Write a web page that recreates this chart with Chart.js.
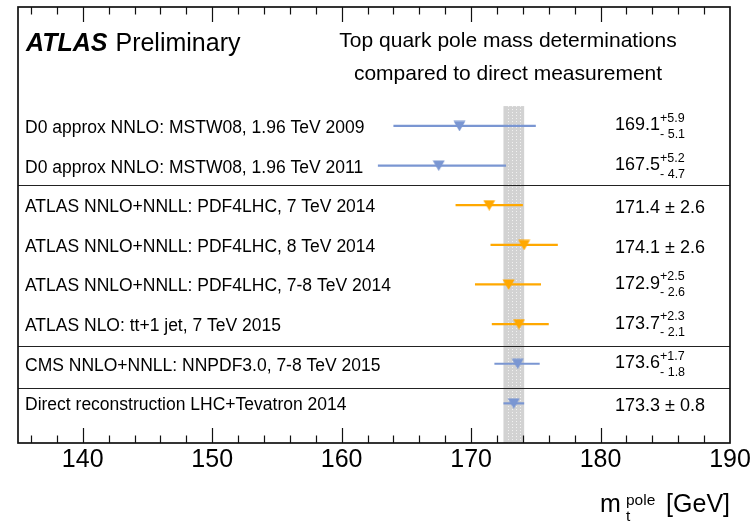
<!DOCTYPE html>
<html><head><meta charset="utf-8">
<script src="https://cdn.jsdelivr.net/npm/chart.js@4.4.1/dist/chart.umd.min.js"></script>
<style>html,body{margin:0;padding:0;background:#fff;}canvas{display:block;}</style>
</head><body>
<canvas id="c" width="756" height="524"></canvas>
<script>
// ---- data ----
const measurementLabels = [
  'D0 approx NNLO: MSTW08, 1.96 TeV 2009',
  'D0 approx NNLO: MSTW08, 1.96 TeV 2011',
  'ATLAS NNLO+NNLL: PDF4LHC, 7 TeV 2014',
  'ATLAS NNLO+NNLL: PDF4LHC, 8 TeV 2014',
  'ATLAS NNLO+NNLL: PDF4LHC, 7-8 TeV 2014',
  'ATLAS NLO: tt+1 jet, 7 TeV 2015',
  'CMS NNLO+NNLL: NNPDF3.0, 7-8 TeV 2015',
  'Direct reconstruction LHC+Tevatron 2014'
];
const centralValues = [169.1, 167.5, 171.4, 174.1, 172.9, 173.7, 173.6, 173.3];
const errorsUp      = [5.9, 5.2, 2.6, 2.6, 2.5, 2.3, 1.7, 0.8];
const errorsDown    = [5.1, 4.7, 2.6, 2.6, 2.6, 2.1, 1.8, 0.8];
const seriesGroups  = ['blue', 'blue', 'orange', 'orange', 'orange', 'orange', 'blue', 'blue'];
const xTickValues   = [140, 150, 160, 170, 180, 190];
const referenceIndex = 7;            // direct measurement -> grey band
const separatorRows = [1.5, 5.55, 6.6];

// ---- styles ----
const COLORS = { blue: 'rgb(122,150,210)', orange: 'rgb(255,168,0)' };
const SANS = '"Liberation Sans", Arial, Helvetica, sans-serif';

function triangleImage(color) {
  const c = document.createElement('canvas');
  c.width = 13; c.height = 11;
  const g = c.getContext('2d');
  g.fillStyle = color;
  g.beginPath(); g.moveTo(0.5, 0.5); g.lineTo(12.5, 0.5); g.lineTo(6.5, 11); g.closePath(); g.fill();
  return c;
}
const markerImages = { blue: triangleImage(COLORS.blue), orange: triangleImage(COLORS.orange) };

const markerDataset = {
  label: 'markers',
  data: centralValues.map((v, i) => ({ x: v, y: i })),
  pointStyle: seriesGroups.map(g => markerImages[g]),
  pointRadius: 6,
  order: 0
};
const errorDatasets = centralValues.map((v, i) => ({
  label: 'err' + i,
  data: [{ x: v - errorsDown[i], y: i }, { x: v + errorsUp[i], y: i }],
  showLine: true,
  borderColor: COLORS[seriesGroups[i]],
  borderWidth: 2.2,
  pointRadius: 0,
  order: 1
}));

function fmt(v) { return v.toFixed(1); }

const decor = {
  id: 'decor',
  beforeDatasetsDraw(chart) {
    const { ctx, chartArea: a, scales: { x, y } } = chart;
    const c = centralValues[referenceIndex];
    const x0 = x.getPixelForValue(c - errorsDown[referenceIndex]);
    const x1 = x.getPixelForValue(c + errorsUp[referenceIndex]);
    const yTop = y.getPixelForValue(-0.5);
    ctx.save();
    ctx.fillStyle = '#d2d2d2';
    ctx.fillRect(x0, yTop, x1 - x0, a.bottom - yTop);
    ctx.strokeStyle = 'rgba(255,255,255,0.75)';
    ctx.lineWidth = 1;
    ctx.setLineDash([1, 2]);
    for (let k = 1; k <= 4; k++) {
      const xx = Math.round(x0 + (x1 - x0) * k / 5) + 0.5;
      ctx.beginPath(); ctx.moveTo(xx, yTop); ctx.lineTo(xx, a.bottom); ctx.stroke();
    }
    ctx.setLineDash([]);
    ctx.strokeStyle = '#222';
    ctx.lineWidth = 1;
    separatorRows.forEach(r => {
      const yy = Math.round(y.getPixelForValue(r)) + 0.5;
      ctx.beginPath(); ctx.moveTo(a.left, yy); ctx.lineTo(a.right, yy); ctx.stroke();
    });
    ctx.restore();
  },
  afterDraw(chart) {
    const { ctx, chartArea: a, scales: { x, y } } = chart;
    ctx.save();
    // ticks
    ctx.strokeStyle = '#111';
    ctx.lineWidth = 1.2;
    for (let v = 136; v <= 188; v += 2) {
      const xx = Math.round(x.getPixelForValue(v)) + 0.5;
      const len = v % 10 === 0 ? 15 : 7.5;
      ctx.beginPath();
      ctx.moveTo(xx, a.bottom); ctx.lineTo(xx, a.bottom - len);
      ctx.moveTo(xx, a.top); ctx.lineTo(xx, a.top + len);
      ctx.stroke();
    }
    // frame
    ctx.lineWidth = 1.7;
    ctx.strokeRect(a.left, a.top, a.right - a.left, a.bottom - a.top);

    ctx.fillStyle = '#000';
    ctx.textBaseline = 'alphabetic';
    // ATLAS Preliminary
    ctx.font = 'italic bold 25px ' + SANS;
    ctx.textAlign = 'left';
    ctx.fillText('ATLAS', 26, 51);
    const w = ctx.measureText('ATLAS').width;
    ctx.font = '25px ' + SANS;
    ctx.fillText('Preliminary', 26 + w + 8, 51);
    // title
    ctx.font = '21px ' + SANS;
    ctx.textAlign = 'center';
    ctx.fillText('Top quark pole mass determinations', 508, 47);
    ctx.fillText('compared to direct measurement', 508, 80);

    // row labels and values
    measurementLabels.forEach((lab, i) => {
      const yy = y.getPixelForValue(i);
      ctx.textAlign = 'left';
      ctx.font = '17.5px ' + SANS;
      ctx.fillText(lab, 25, yy + 7);
      ctx.font = '18px ' + SANS;
      const main = fmt(centralValues[i]);
      const xv = 615;
      if (errorsUp[i] === errorsDown[i]) {
        ctx.fillText(main + ' \u00b1 ' + fmt(errorsUp[i]), xv, yy + 8);
      } else {
        ctx.fillText(main, xv, yy + 4.5);
        const mw = ctx.measureText(main).width;
        ctx.font = '12.5px ' + SANS;
        ctx.fillText('+' + fmt(errorsUp[i]), xv + mw, yy - 4);
        ctx.fillText('- ' + fmt(errorsDown[i]), xv + mw, yy + 12);
      }
    });

    // axis title
    ctx.textAlign = 'left';
    ctx.font = '25px ' + SANS;
    ctx.fillText('m', 600, 512);
    ctx.font = '15.5px ' + SANS;
    ctx.fillText('pole', 626, 505);
    ctx.fillText('t', 626, 521);
    ctx.font = '25px ' + SANS;
    ctx.textAlign = 'right';
    ctx.fillText('[GeV]', 730, 512);
    ctx.restore();
  }
};

new Chart(document.getElementById('c'), {
  type: 'scatter',
  data: { datasets: [markerDataset, ...errorDatasets] },
  options: {
    responsive: false,
    animation: false,
    devicePixelRatio: 1,
    layout: { padding: { left: 18, right: 26, top: 7, bottom: 0 } },
    plugins: { legend: { display: false }, tooltip: { enabled: false } },
    scales: {
      x: {
        type: 'linear', min: 135, max: 190,
        grid: { display: false, drawTicks: false },
        border: { display: false },
        afterBuildTicks(scale) { scale.ticks = xTickValues.map(v => ({ value: v })); },
        afterFit(scale) { scale.height = 81; },
        ticks: { color: '#000', font: { family: SANS, size: 25 }, padding: 2, maxRotation: 0, autoSkip: false }
      },
      y: { type: 'linear', min: -3, max: 8, reverse: true, display: false }
    }
  },
  plugins: [decor]
});
</script>
</body></html>
